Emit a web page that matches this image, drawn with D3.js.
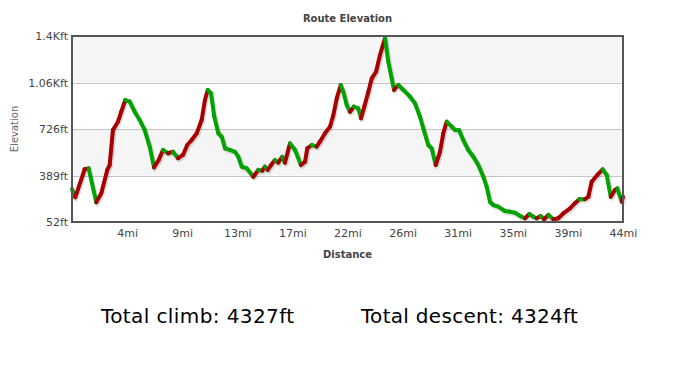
<!DOCTYPE html>
<html>
<head>
<meta charset="utf-8">
<script src="https://cdn.jsdelivr.net/npm/d3@7"></script>
<style>
  body { margin: 0; background: #fff; }
  svg text { font-family: "DejaVu Sans", Verdana, sans-serif; }
</style>
</head>
<body>
<div id="chart"></div>
<script>
// route profile
const distMi = [0, 0.26, 1.00, 1.32, 1.92, 2.32, 2.79, 2.98, 3.24, 3.64, 3.90, 4.22, 4.57, 4.96, 5.36, 5.75,
    6.15, 6.49, 6.86, 7.20, 7.60, 7.99, 8.39, 8.78, 9.12, 9.47, 9.87, 10.26, 10.52, 10.74, 11.00, 11.26,
    11.58, 11.85, 12.11, 12.50, 12.90, 13.16, 13.43, 13.82, 14.35, 14.74, 15.06, 15.27, 15.49, 15.75,
    16.06, 16.32, 16.64, 16.85, 17.25, 17.65, 18.12, 18.44, 18.62, 18.97, 19.36, 19.62, 20.02, 20.42,
    20.68, 20.95, 21.26, 21.47, 21.74, 22.00, 22.31, 22.65, 22.87, 23.13, 23.45, 23.72, 24.06, 24.37,
    24.77, 25.03, 25.48, 25.82, 26.22, 26.75, 27.14, 27.54, 27.80, 28.19, 28.46, 28.78, 29.12, 29.38,
    29.65, 30.05, 30.31, 30.62, 30.96, 31.36, 31.76, 32.15, 32.55, 32.81, 33.08, 33.34, 33.73, 34.26,
    34.66, 35.05, 35.58, 35.85, 36.19, 36.50, 36.77, 37.09, 37.35, 37.69, 38.09, 38.48, 38.88, 39.41,
    39.80, 40.14, 40.59, 40.86, 41.12, 41.57, 41.99, 42.31, 42.63, 42.97, 43.15, 43.50, 43.60];
const elevFt = [291, 231, 434, 441, 195, 260, 429, 465, 719, 779, 851, 936, 924, 851, 791, 719,
    598, 448, 501, 574, 550, 561, 514, 538, 610, 646, 695, 791, 936, 1009, 985, 815,
    695, 670, 586, 574, 561, 525, 453, 441, 380, 429, 424, 453, 429, 465,
    501, 482, 525, 482, 622, 574, 465, 489, 586, 610, 598, 634, 695, 743,
    827, 948, 1045, 996, 900, 851, 888, 876, 804, 888, 996, 1093, 1141, 1262,
    1385, 1214, 1009, 1045, 1009, 960, 912, 815, 731, 610, 586, 465, 561, 695,
    779, 743, 719, 719, 646, 574, 525, 465, 380, 308, 199, 175, 163, 132,
    127, 119, 90, 79, 110, 90, 79, 95, 72, 103, 72, 79, 115, 151,
    188, 217, 217, 235, 344, 393, 434, 393, 235, 284, 296, 199, 235];

const yTickValues = [52, 389, 726, 1063, 1400];
const yTickLabels = ["52ft", "389ft", "726ft", "1.06Kft", "1.4Kft"];
const xTickValues = [4.36, 8.72, 13.08, 17.44, 21.8, 26.16, 30.52, 34.88, 39.24, 43.6];
const xTickLabels = ["4mi", "9mi", "13mi", "17mi", "22mi", "26mi", "31mi", "35mi", "39mi", "44mi"];

const totalClimb = 4327;
const totalDescent = 4324;

const width = 682, height = 368;
const margin = {top: 36, right: 59, bottom: 146, left: 72};
const w = width - margin.left - margin.right;
const h = height - margin.top - margin.bottom;

const svg = d3.select("#chart").append("svg")
    .attr("width", width)
    .attr("height", height);

const x = d3.scaleLinear().domain([0, 43.6]).range([0, w]);
const y = d3.scaleLinear().domain([52, 1400]).range([h, 0]);

const g = svg.append("g")
    .attr("transform", "translate(" + margin.left + "," + margin.top + ")");

// alternating bands
for (let i = 0; i < yTickValues.length - 1; i++) {
    g.append("rect")
        .attr("x", 0)
        .attr("width", w)
        .attr("y", y(yTickValues[i + 1]))
        .attr("height", y(yTickValues[i]) - y(yTickValues[i + 1]))
        .attr("fill", i % 2 === 1 ? "#f5f5f5" : "#fff");
}

// grid
const grid = g.append("g")
    .call(d3.axisLeft(y).tickValues(yTickValues).tickSize(-w).tickFormat(""));
grid.select(".domain").remove();
grid.selectAll("line").attr("stroke", "#c4c4c4").attr("shape-rendering", "crispEdges");

// y labels
const yAxis = g.append("g")
    .call(d3.axisLeft(y).tickValues(yTickValues).tickSize(0).tickPadding(4)
        .tickFormat((d, i) => yTickLabels[i]));
yAxis.select(".domain").remove();
yAxis.selectAll("text")
    .attr("font-size", 11)
    .attr("fill", "#444")
    .style("font-family", "'DejaVu Sans', Verdana, sans-serif");

// x labels
const xAxis = g.append("g")
    .attr("transform", "translate(0," + h + ")")
    .call(d3.axisBottom(x).tickValues(xTickValues).tickSize(0).tickPadding(7)
        .tickFormat((d, i) => xTickLabels[i]));
xAxis.select(".domain").remove();
xAxis.selectAll("text")
    .attr("font-size", 11)
    .attr("fill", "#444")
    .style("font-family", "'DejaVu Sans', Verdana, sans-serif");

// line
const pts = distMi.map((d, i) => [d, elevFt[i]]);
const line = d3.line().x(d => x(d[0])).y(d => y(d[1]));

g.append("path")
    .datum(pts)
    .attr("d", line)
    .attr("transform", "translate(1,1.5)")
    .attr("fill", "none")
    .attr("stroke", "rgba(0,0,0,0.13)")
    .attr("stroke-width", 5)
    .attr("stroke-linejoin", "round")
    .attr("stroke-linecap", "round");

const segs = d3.pairs(pts);
g.selectAll(".seg")
    .data(segs)
    .enter().append("line")
    .attr("class", "seg")
    .attr("x1", d => x(d[0][0]))
    .attr("y1", d => y(d[0][1]))
    .attr("x2", d => x(d[1][0]))
    .attr("y2", d => y(d[1][1]))
    .attr("stroke", d => d[1][1] > d[0][1] ? "#a80000" : "#00a300")
    .attr("stroke-width", 4)
    .attr("stroke-linecap", "round");

// frame
g.append("rect")
    .attr("x", 0).attr("y", 0)
    .attr("width", w).attr("height", h)
    .attr("fill", "none")
    .attr("stroke", "#555")
    .attr("stroke-width", 2);

// titles
svg.append("text")
    .attr("x", margin.left + w / 2)
    .attr("y", 22)
    .attr("text-anchor", "middle")
    .attr("font-size", 10)
    .attr("font-weight", "bold")
    .attr("fill", "#444")
    .text("Route Elevation");

svg.append("text")
    .attr("x", margin.left + w / 2)
    .attr("y", 258)
    .attr("text-anchor", "middle")
    .attr("font-size", 10)
    .attr("font-weight", "bold")
    .attr("fill", "#444")
    .text("Distance");

svg.append("text")
    .attr("transform", "translate(18," + (margin.top + h / 2) + ") rotate(-90)")
    .attr("text-anchor", "middle")
    .attr("font-size", 10)
    .attr("fill", "#666")
    .text("Elevation");

// totals
svg.append("text")
    .attr("x", 101)
    .attr("y", 323)
    .attr("font-size", 20)
    .attr("letter-spacing", 0.4)
    .attr("fill", "#000")
    .text("Total climb: " + totalClimb + "ft");

svg.append("text")
    .attr("x", 361)
    .attr("y", 323)
    .attr("font-size", 20)
    .attr("letter-spacing", 0.3)
    .attr("fill", "#000")
    .text("Total descent: " + totalDescent + "ft");
</script>
</body>
</html>
